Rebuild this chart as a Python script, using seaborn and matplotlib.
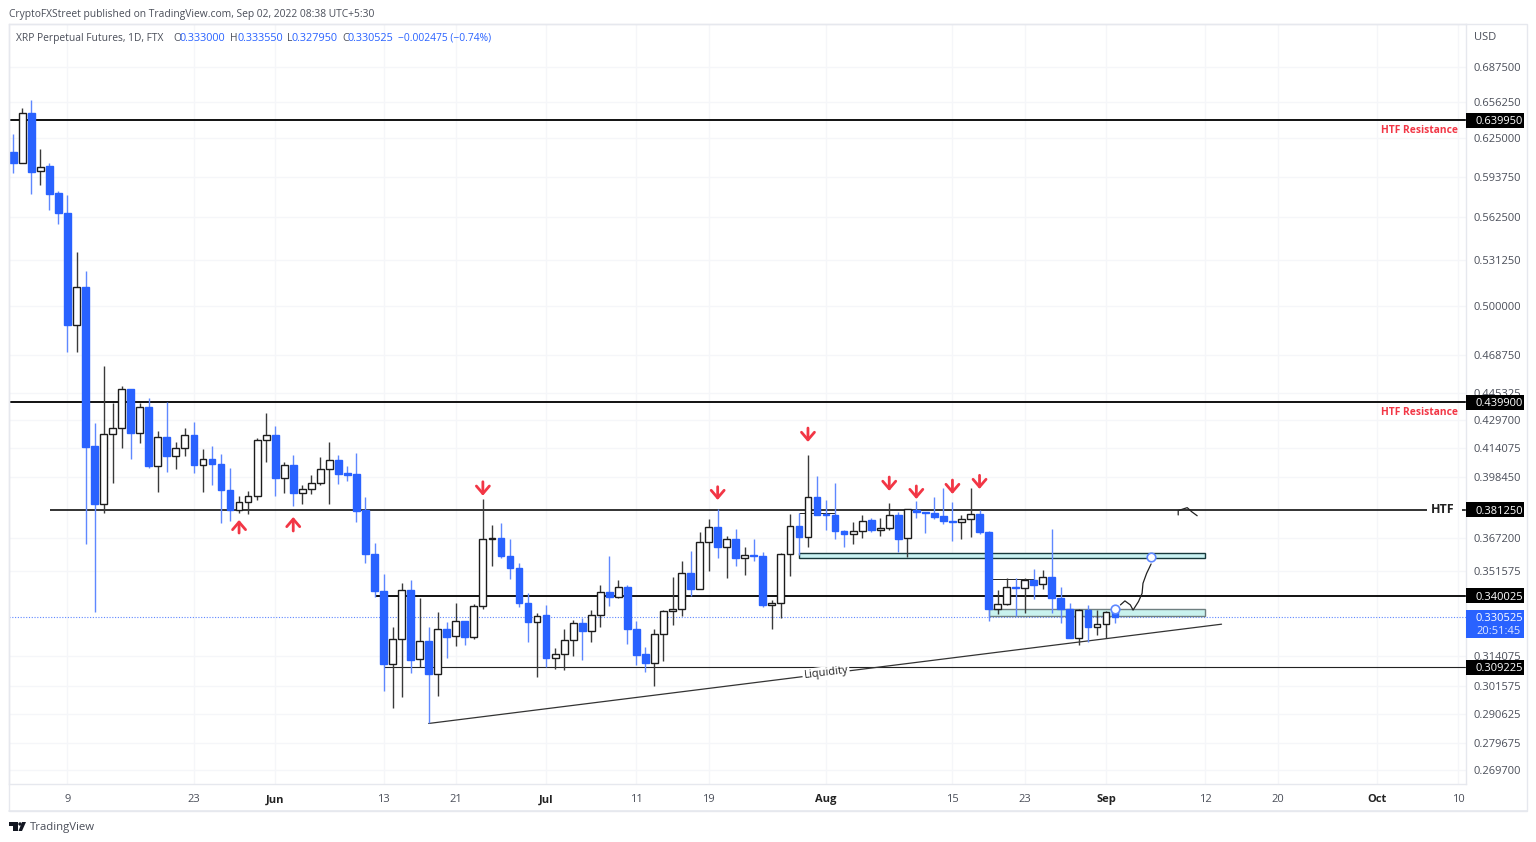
import numpy as np
import pandas as pd
import matplotlib
matplotlib.use('Agg')
import matplotlib.pyplot as plt
import seaborn as sns
from matplotlib.lines import Line2D
from matplotlib.patches import Polygon, Rectangle, Circle
from matplotlib.transforms import IdentityTransform

# candles (May 3 -> Sep 2 2022, one per day)
opens = [.6139,.6048,.6463,.5981,.6024,.5808,.5656,.4875,.5128,.4153,.3843,.4218,.4253,.4476,.4221,.4374,.4043,.4199,.4096,.4138,.4214,.4045,.4081,.4052,.3915,.3813,.3854,.3886,.4182,
         .4214,.3976,.4049,.3898,.3922,.3950,.4024,.4074,.4003,.3997,.3812,.3596,.3424,.3108,.3210,.3427,.3125,.3204,.3066,.3256,.3223,.3290,.3219,.3353,.3666,.3671,.3587,.3531,.3367,.3286,
         .3314,.3133,.3147,.3208,.3279,.3244,.3316,.3417,.3396,.3442,.3253,.3146,.3111,.3231,.3331,.3340,.3504,.3432,.3652,.3726,.3631,.3666,.3575,.3590,.3586,.3360,.3370,.3594,.3734,.3679,.3880,
         .3792,.3788,.3708,.3694,.3708,.3760,.3712,.3720,.3785,.3671,.3812,.3801,.3797,.3782,.3757,.3751,.3768,.3792,.3704,.3343,.3363,.3442,.3435,.3472,.3453,.3486,.3392,.3344,.3217,.3336,.3263,.3274,
         .3330]
closes = [.6045,.6463,.5977,.6018,.5805,.5656,.4875,.5130,.4145,.3841,.4218,.4253,.4476,.4221,.4374,.4043,.4199,.4096,.4138,.4214,.4045,.4081,.4052,.3915,.3813,.3854,.3884,.4182,.4214,
          .3976,.4049,.3898,.3922,.3950,.4024,.4074,.4001,.3995,.3809,.3594,.3424,.3108,.3210,.3427,.3122,.3204,.3066,.3256,.3221,.3290,.3219,.3355,.3666,.3671,.3586,.3531,.3367,.3286,.3312,
          .3133,.3147,.3208,.3279,.3244,.3316,.3417,.3396,.3442,.3253,.3143,.3111,.3231,.3331,.3340,.3504,.3432,.3652,.3726,.3631,.3666,.3575,.3591,.3585,.3360,.3370,.3594,.3734,.3679,.3880,.3788,
          .3787,.3708,.3694,.3708,.3758,.3712,.3723,.3785,.3669,.3816,.3801,.3796,.3779,.3757,.3752,.3768,.3792,.3701,.3343,.3363,.3442,.3435,.3472,.3451,.3486,.3392,.3343,.3217,.3336,.3263,.3274,.3327,
          .3305]
highs = [.6285,.6506,.6576,.6161,.6048,.5826,.5795,.5373,.5239,.4278,.4618,.4396,.4496,.4478,.4397,.4423,.4236,.4400,.4175,.4250,.4287,.4133,.4153,.4105,.4029,.3884,.3910,.4193,.4336,
         .4263,.4065,.4100,.3939,.3992,.4092,.4171,.4101,.4042,.4114,.3880,.3650,.3500,.3262,.3461,.3473,.3390,.3262,.3327,.3284,.3367,.3290,.3364,.3867,.3737,.3745,.3668,.3554,.3412,.3325,
         .3360,.3171,.3254,.3293,.3303,.3337,.3450,.3587,.3473,.3450,.3289,.3176,.3253,.3337,.3486,.3562,.3610,.3701,.3767,.3816,.3683,.3719,.3628,.3666,.3604,.3382,.3599,.3792,.3798,.4101,.3990,
         .3863,.3950,.3712,.3751,.3787,.3773,.3770,.3846,.3803,.3817,.3858,.3802,.3877,.3925,.3851,.3787,.3925,.3812,.3707,.3427,.3481,.3481,.3481,.3523,.3520,.3716,.3442,.3367,.3340,.3359,.3337,.3333,
         .33355]
lows = [.5967,.6048,.5803,.5873,.5681,.5576,.4704,.4704,.3644,.3330,.3798,.3951,.4142,.4081,.4166,.4031,.3903,.4011,.4025,.4098,.4003,.3906,.3942,.3749,.3758,.3798,.3790,.3865,.4065,
        .3885,.3901,.3834,.3841,.3893,.3939,.3843,.3946,.3962,.3754,.3551,.3397,.2997,.2930,.2974,.3068,.3092,.2870,.2977,.3129,.3182,.3187,.3210,.3344,.3540,.3575,.3478,.3349,.3197,.3053,
        .3092,.3084,.3081,.3140,.3122,.3197,.3264,.3357,.3392,.3190,.3102,.3074,.3016,.3119,.3271,.3312,.3402,.3432,.3515,.3575,.3484,.3540,.3496,.3564,.3349,.3254,.3303,.3493,.3591,.3631,.3787,
        .3712,.3666,.3631,.3642,.3674,.3704,.3683,.3712,.3607,.3580,.3770,.3699,.3765,.3741,.3660,.3666,.3679,.3691,.3290,.3319,.3360,.3311,.3322,.3388,.3432,.3322,.3281,.3217,.3184,.3197,.3228,.3214,
        .32795]

y_ticks = [.6875,.65625,.625,.59375,.5625,.53125,.5,.46875,.445325,.4297,.414075,.39845,.3672,.351575,.314075,.301575,.290625,.279675,.2697]
x_tick_days = [6,20,29,41,49,59,69,77,90,104,112,121,132,140,151,160]
x_tick_labels = ['9','23','Jun','13','21','Jul','11','19','Aug','15','23','Sep','12','20','Oct','10']
month_labels = ['Jun','Jul','Aug','Sep','Oct']

level_prices = [0.63995, 0.4399, 0.38125, 0.340025, 0.309225]
level_labels = ['0.639950', '0.439900', '0.381250', '0.340025', '0.309225']
last_price = 0.330525

down_arrow_days = [52,78,88,97,100,104,107]
down_arrow_tips = [.3885,.3863,.4173,.3910,.3868,.3894,.3920]
down_arrow_tails = [.3958,.3932,.4251,.3983,.3936,.3967,.3992]
up_arrow_days = [25,31]
up_arrow_tips = [.3762,.3777]
up_arrow_tails = [.3697,.3707]

path_days = [122.6,123.1,123.7,124.0,124.6,125.0,125.1,125.5,126.0]
path_prices = [.3360,.3378,.3360,.3337,.3375,.3412,.3458,.3504,.3548]
hook_days = [129.0,129.0,130.0,130.5,131.1]
hook_prices = [.3787,.3809,.3824,.3803,.3783]

W, H = 1536, 842
BLUE = '#2962ff'
RED = '#f23645'
GRID = '#f5f6f9'
FRAME = '#e6e8ee'
TXT = '#4a4e59'

df = pd.DataFrame({'day': np.arange(len(opens)), 'open': opens, 'high': highs, 'low': lows, 'close': closes})
df['up'] = df['close'] >= df['open']
df['bottom'] = df[['open', 'close']].min(axis=1)
df['height'] = (df['close'] - df['open']).abs()

sns.set_theme(style='white')
plt.rcParams['font.family'] = ['Open Sans', 'DejaVu Sans']

fig = plt.figure(figsize=(W / 100, H / 100), dpi=100, facecolor='white')
ax = fig.add_axes([9 / W, 1 - 784 / H, (1466 - 9) / W, (784 - 24) / H])

ups = df[df['up']]
downs = df[~df['up']]
ax.vlines(ups['day'], ups['low'], ups['high'], color='#3a3a3a', lw=1.0, zorder=2.5)
ax.vlines(downs['day'], downs['low'], downs['high'], color='#5f88ff', lw=1.0, zorder=2.5)
sns.barplot(data=ups, x='day', y='height', native_scale=True, bottom=ups['bottom'].values, width=0.75,
            color='white', saturation=1, edgecolor='#1c1c1c', linewidth=1.0, errorbar=None, zorder=3, ax=ax)
sns.barplot(data=downs, x='day', y='height', native_scale=True, bottom=downs['bottom'].values, width=0.75,
            color=BLUE, saturation=1, edgecolor=BLUE, linewidth=1.0, errorbar=None, zorder=3, ax=ax)

ax.set_yscale('log')
ax.set_xlim(-0.476, 160.87)
ax.set_ylim(0.2648, 0.7275)
ax.set_xlabel('')
ax.set_ylabel('')

# horizontal levels
right = 160.87
ax.hlines(0.63995, -0.476, right, color='#111111', lw=1.4, zorder=2)
ax.hlines(0.4399, -0.476, right, color='#111111', lw=1.4, zorder=2)
ax.hlines(0.38125, 4.1, 156.5, color='#111111', lw=1.2, zorder=2)
ax.hlines(0.38125, 160.4, right, color='#111111', lw=1.2, zorder=2)
ax.hlines(0.340025, 40, right, color='#111111', lw=1.4, zorder=2)
ax.hlines(0.309225, 41, right, color='#222222', lw=0.8, zorder=2)
ax.hlines(last_price, -0.476, right, color='#5f88ff', lw=0.8, linestyles=(0, (1, 1.5)), zorder=2)
# small box edges around the ranges
ax.hlines(0.3476, 108, 113, color='#222222', lw=0.7, zorder=2)
ax.hlines(0.3798, 87, 91, color='#222222', lw=0.7, zorder=2)

# supply / demand zones
ax.add_patch(Rectangle((87, .3578), 45, .3599 - .3578, facecolor='#c9f2f2', edgecolor='#17393c', lw=1.0, zorder=2.2))
ax.add_patch(Rectangle((108, .3311), 24, .3343 - .3311, facecolor='#c9f2ee', edgecolor='#6f7f80', lw=1.0, zorder=2.2))

# liquidity trend line
ax.plot([46, 133.8], [.2870, .3275], color='#333333', lw=0.9, zorder=2)
ax.text(90.0, .3068, 'Liquidity', rotation=7, rotation_mode='anchor', ha='center', va='center', fontsize=8,
        color='#222222', zorder=4, bbox=dict(facecolor='white', edgecolor='none', pad=1.0))

# projected path
ax.plot(path_days, path_prices, color='#222222', lw=0.9, zorder=4)
ax.plot(hook_days, hook_prices, color='#222222', lw=0.9, zorder=4)
sns.scatterplot(x=[126, 122], y=[.3580, .3343], s=38, facecolor='white', edgecolor='#5f88ff', linewidth=1.2,
                zorder=5, ax=ax, legend=False)

for d, tip, tail in zip(down_arrow_days + up_arrow_days, down_arrow_tips + up_arrow_tips, down_arrow_tails + up_arrow_tails):
    ax.annotate('', xy=(d, tip), xytext=(d, tail), zorder=6,
                arrowprops=dict(arrowstyle='->,head_length=0.42,head_width=0.36', color=RED, lw=2.0,
                                mutation_scale=13, shrinkA=0, shrinkB=0))

ax.text(160.0, .6315, 'HTF Resistance', color=RED, fontsize=7.4, fontweight='bold', ha='right', va='center')
ax.text(160.0, .4340, 'HTF Resistance', color=RED, fontsize=7.4, fontweight='bold', ha='right', va='center')
ax.text(158.3, .38125, 'HTF', color='#222222', fontsize=9, fontweight='bold', ha='center', va='center')

# grid + ticks
ax.set_yticks(y_ticks)
ax.set_yticks([], minor=True)
ax.set_yticklabels([f'{v:.6f}' for v in y_ticks])
ax.set_xticks(x_tick_days)
ax.set_xticklabels(x_tick_labels)
ax.yaxis.tick_right()
ax.tick_params(axis='y', length=0, pad=5.5, labelsize=8, labelcolor=TXT)
ax.tick_params(axis='x', length=0, pad=7.5, labelsize=8, labelcolor=TXT)
for lab in ax.get_xticklabels():
    if lab.get_text() in month_labels:
        lab.set_fontweight('bold')
        lab.set_color('#222222')
ax.grid(True, color=GRID, lw=1.0)
ax.set_axisbelow(True)
for s in ax.spines.values():
    s.set_color(FRAME)
    s.set_linewidth(1.0)


def px_rect(x, y, w, h, **kw):
    fig.add_artist(Rectangle((x, H - y - h), w, h, transform=IdentityTransform(), **kw))


def px_text(x, y, s, **kw):
    fig.text(x / W, 1 - (y + 1.2) / H, s, va='center', **kw)


# outer frame for the axis strips
px_rect(9, 24, 1518, 787, facecolor='none', edgecolor=FRAME, lw=1.0)
fig.add_artist(Line2D([9 / W, 1527 / W], [1 - 811 / H, 1 - 811 / H], color=FRAME, lw=1.2))

# price tags on the right axis
for price, label in zip(level_prices, level_labels):
    yd = ax.transData.transform((0, price))[1]
    y = H - yd
    px_rect(1466, y - 7.5, 58, 15, facecolor='black', edgecolor='none', zorder=5)
    px_text(1475, y, label, color='white', fontsize=8, zorder=6)

y = H - ax.transData.transform((0, last_price))[1]
px_rect(1466, y - 7.5, 58, 28, facecolor=BLUE, edgecolor='none', zorder=5)
px_text(1475, y + 0.5, '0.330525', color='white', fontsize=8, zorder=6)
px_text(1476, y + 13, '20:51:45', color='#dfe7ff', fontsize=8, zorder=6)

px_text(1474, 36, 'USD', color=TXT, fontsize=8)

# header
px_text(9, 13, 'CryptoFXStreet published on TradingView.com, Sep 02, 2022 08:38 UTC+5:30', color=TXT, fontsize=7.4)
px_text(16, 37, 'XRP Perpetual Futures, 1D, FTX', color=TXT, fontsize=7.4)
for x, s in [(173, 'O'), (230, 'H'), (287, 'L'), (342, 'C')]:
    px_text(x, 37, s, color=TXT, fontsize=7.4)
for x, s in [(180, '0.333000'), (237, '0.333550'), (292, '0.327950'), (348, '0.330525')]:
    px_text(x, 37, s, color=BLUE, fontsize=7.8)
px_text(398, 37, '\u22120.002475 (\u22120.74%)', color=BLUE, fontsize=7.4)

# TradingView mark
for pts in ([(9, 822), (18, 822), (18, 831), (13, 831), (13, 826), (9, 826)],
            [(22, 822), (26, 822), (22, 831), (18.5, 831)]):
    fig.add_artist(Polygon([(a, H - b) for a, b in pts], closed=True, transform=IdentityTransform(), facecolor='#131722', edgecolor='none'))
fig.add_artist(Circle((20, H - 824), 1.7, transform=IdentityTransform(), facecolor='#131722', edgecolor='none'))
px_text(30, 826, 'TradingView', color=TXT, fontsize=8.2)

fig.savefig('out.png', dpi=100)
print(len(opens), len(closes), len(highs), len(lows))
